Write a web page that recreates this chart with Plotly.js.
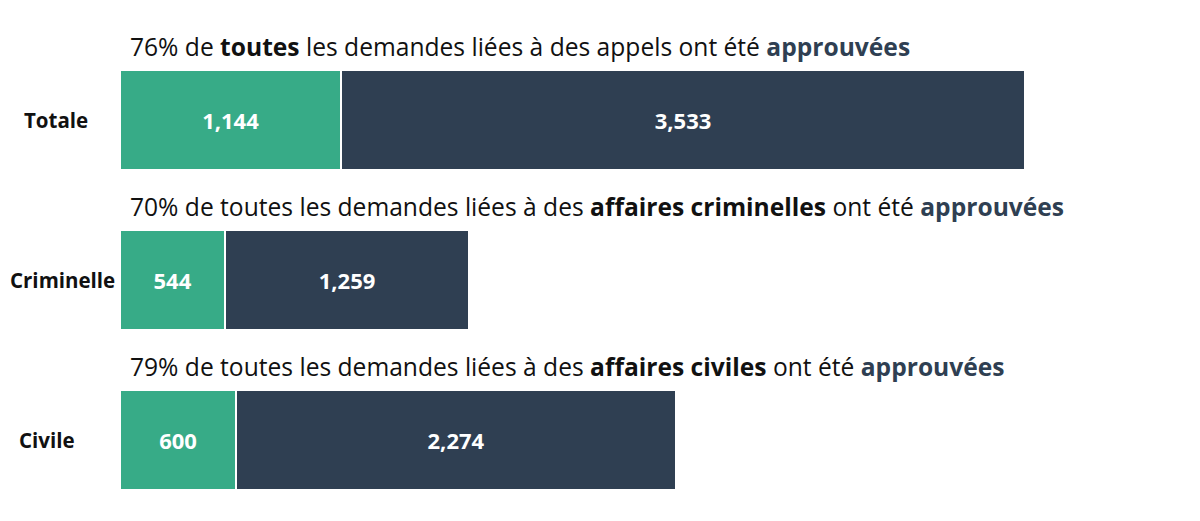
<!DOCTYPE html>
<html>
<head>
<meta charset="utf-8">
<script src="https://cdn.plot.ly/plotly-3.0.1.min.js"></script>
<style>html,body{margin:0;padding:0;background:#fff;}#chart{width:1200px;height:521px;}</style>
</head>
<body>
<div id="chart"></div>
<script>
// Data
const categories = ["Totale", "Criminelle", "Civile"];
const refusees = [1144, 544, 600];
const approuvees = [3533, 1259, 2274];
const captions = [
  '76% de <b>toutes</b> les demandes liées à des appels ont été <b><span style="color:#2F3F52">approuvées</span></b>',
  '70% de toutes les demandes liées à des <b>affaires criminelles</b> ont été <b><span style="color:#2F3F52">approuvées</span></b>',
  '79% de toutes les demandes liées à des <b>affaires civiles</b> ont été <b><span style="color:#2F3F52">approuvées</span></b>'
];

const FONT = '"Open Sans", "Liberation Sans", sans-serif';
const GREEN = '#37AB87';
const DARK = '#2F3F52';
const ML = 120, MR = 16;
const PW = 1200 - ML - MR;
const labelPx = [22, 8, 17];

const common = {
  type: 'bar', orientation: 'h', y: categories,
  texttemplate: '%{x:,}', textposition: 'inside', insidetextanchor: 'middle',
  textfont: {family: FONT, size: 22, color: '#ffffff', weight: 700},
  hoverinfo: 'x+y+name'
};

const traces = [
  Object.assign({}, common, {name: 'Refusées', x: refusees, marker: {color: GREEN, line: {color: '#ffffff', width: 2}}}),
  Object.assign({}, common, {name: 'Approuvées', x: approuvees, marker: {color: DARK, line: {color: '#ffffff', width: 2}}})
];

const annotations = [];
categories.forEach((c, i) => {
  annotations.push({
    x: 0, y: c, xref: 'x', yref: 'y', xanchor: 'left', yanchor: 'middle',
    xshift: 8, yshift: 74, showarrow: false, text: captions[i],
    font: {family: FONT, size: 24.6, color: '#111111'}
  });
  annotations.push({
    x: (labelPx[i] - ML) / PW, y: c, xref: 'paper', yref: 'y', xanchor: 'left', yanchor: 'middle',
    showarrow: false, text: '<b>' + c + '</b>',
    font: {family: FONT, size: 20.5, color: '#111111'}
  });
});

const layout = {
  width: 1200, height: 521,
  margin: {l: ML, r: MR, t: 40, b: 1},
  barmode: 'stack', bargap: 0.38, showlegend: false,
  paper_bgcolor: '#ffffff', plot_bgcolor: '#ffffff',
  xaxis: {range: [0, 5500], visible: false, fixedrange: true},
  yaxis: {range: [2.5, -0.5], showticklabels: false, showgrid: false, zeroline: false, showline: false, ticks: '', fixedrange: true},
  annotations: annotations,
  font: {family: FONT}
};

Plotly.newPlot('chart', traces, layout, {displayModeBar: false, staticPlot: true});
</script>
</body>
</html>
